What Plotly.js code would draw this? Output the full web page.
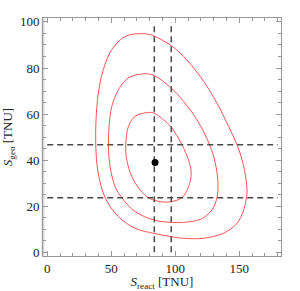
<!DOCTYPE html>
<html>
<head>
<meta charset="utf-8">
<script src="https://cdn.plot.ly/plotly-3.0.1.min.js"></script>
<style>html,body{margin:0;padding:0;background:#fff;}#chart{width:300px;height:291px;}</style>
</head>
<body>
<div id="chart"></div>
<script>
// Confidence contours
const outerX = [72.5, 80.4, 83.5, 96.8, 106.4, 119.5, 132.5, 141.6, 148.2, 153.4, 156, 155.5, 153.4, 148.2, 137.7, 122.1, 106.4, 96.8, 83.5, 68.6, 55.6, 45.2, 39.4, 37.9, 38.1, 39.9, 43.8, 50.4, 60.8, 72.5];
const outerY = [94.9, 94.5, 93.9, 89.7, 85.0, 76.3, 64.8, 54.6, 46.65, 37.2, 27.1, 23.7, 18.4, 12.6, 8.3, 6.1, 6.1, 6.8, 8.2, 10.4, 15.5, 23.7, 35.8, 46.65, 57.5, 69.1, 79.3, 88, 93.7, 94.9];
const midX = [76.4, 83.5, 96.8, 106.4, 116.9, 126.8, 131.2, 133.3, 132.5, 128.6, 119.5, 106.4, 96.8, 83.5, 68.6, 58.2, 53, 49.1, 47.7, 48.3, 50.4, 55.6, 63.4, 76.4];
const midY = [77.5, 76.7, 71.3, 65.5, 57.5, 46.65, 38.7, 30, 23.7, 18.4, 14.3, 13.0, 13.0, 14.0, 17.7, 23.7, 28.5, 37.2, 46.65, 54.6, 63.3, 70.6, 75.7, 77.5];
const innerX = [79, 83.5, 90.8, 96.8, 105.2, 110.3, 112.4, 110.3, 105.2, 96.8, 90.8, 83.5, 79, 72.5, 66, 62.1, 61.3, 63.4, 68.6, 79];
const innerY = [60.7, 60.4, 57.5, 54.3, 46.65, 40.1, 34.3, 28.5, 23.7, 22, 21.8, 22.6, 23.7, 27.1, 32.9, 40.1, 46.65, 54.6, 59, 60.7];
// Best-fit point and 1-sigma bands
const bestX = [84.2];
const bestY = [39];
const vLines = [83.6, 96.8];
const hLines = [23.7, 46.65];
const xSpan = [0, 180];
const ySpan = [0, 100];

const red = 'rgb(255,85,85)';
const dashCol = '#4a4a4a';
const traces = [];
[[outerX, outerY], [midX, midY], [innerX, innerY]].forEach(([x, y]) => {
  traces.push({x: x, y: y, type: 'scatter', mode: 'lines', line: {color: red, width: 1, shape: 'spline', smoothing: 1}, hoverinfo: 'skip'});
});
vLines.forEach(v => traces.push({x: [v, v], y: ySpan, type: 'scatter', mode: 'lines', line: {color: dashCol, width: 1.5, dash: '6px,4px'}}));
hLines.forEach(h => traces.push({x: xSpan, y: [h, h], type: 'scatter', mode: 'lines', line: {color: dashCol, width: 1.5, dash: '6px,4px'}}));
traces.push({x: bestX, y: bestY, type: 'scatter', mode: 'markers', marker: {color: '#000', size: 7}});

const font = {family: 'Liberation Serif, Times New Roman, serif', size: 13, color: '#222'};
const axisBase = {
  showgrid: false, zeroline: false, showline: true, linecolor: '#999', linewidth: 1, mirror: 'allticks',
  ticks: 'inside', ticklen: 5, tickcolor: '#999', tickwidth: 1, tickfont: font
};
const layout = {
  width: 300, height: 291,
  margin: {l: 43, r: 19, t: 18, b: 35},
  paper_bgcolor: '#fff', plot_bgcolor: '#fff',
  showlegend: false,
  font: font,
  xaxis: Object.assign({}, axisBase, {
    range: [-3.3, 182.5], dtick: 50, tick0: 0,
    minor: {dtick: 10, ticks: 'inside', ticklen: 3, tickcolor: '#999', showgrid: false},
    title: {text: '<i>S</i><sub>react</sub> [TNU]', font: font, standoff: 6}
  }),
  yaxis: Object.assign({}, axisBase, {
    range: [-1.6, 101.7], dtick: 20, tick0: 0,
    minor: {dtick: 5, ticks: 'inside', ticklen: 3, tickcolor: '#999', showgrid: false},
    title: {text: '<i>S</i><sub>geo</sub> [TNU]', font: font, standoff: 4}
  }),
  shapes: [{type: 'line', xref: 'paper', yref: 'paper', x0: 0, x1: 0, y0: 0, y1: 1, line: {color: '#dadada', width: 3}, layer: 'below'}]
};
Plotly.newPlot('chart', traces, layout, {displayModeBar: false, staticPlot: true});
</script>
</body>
</html>
